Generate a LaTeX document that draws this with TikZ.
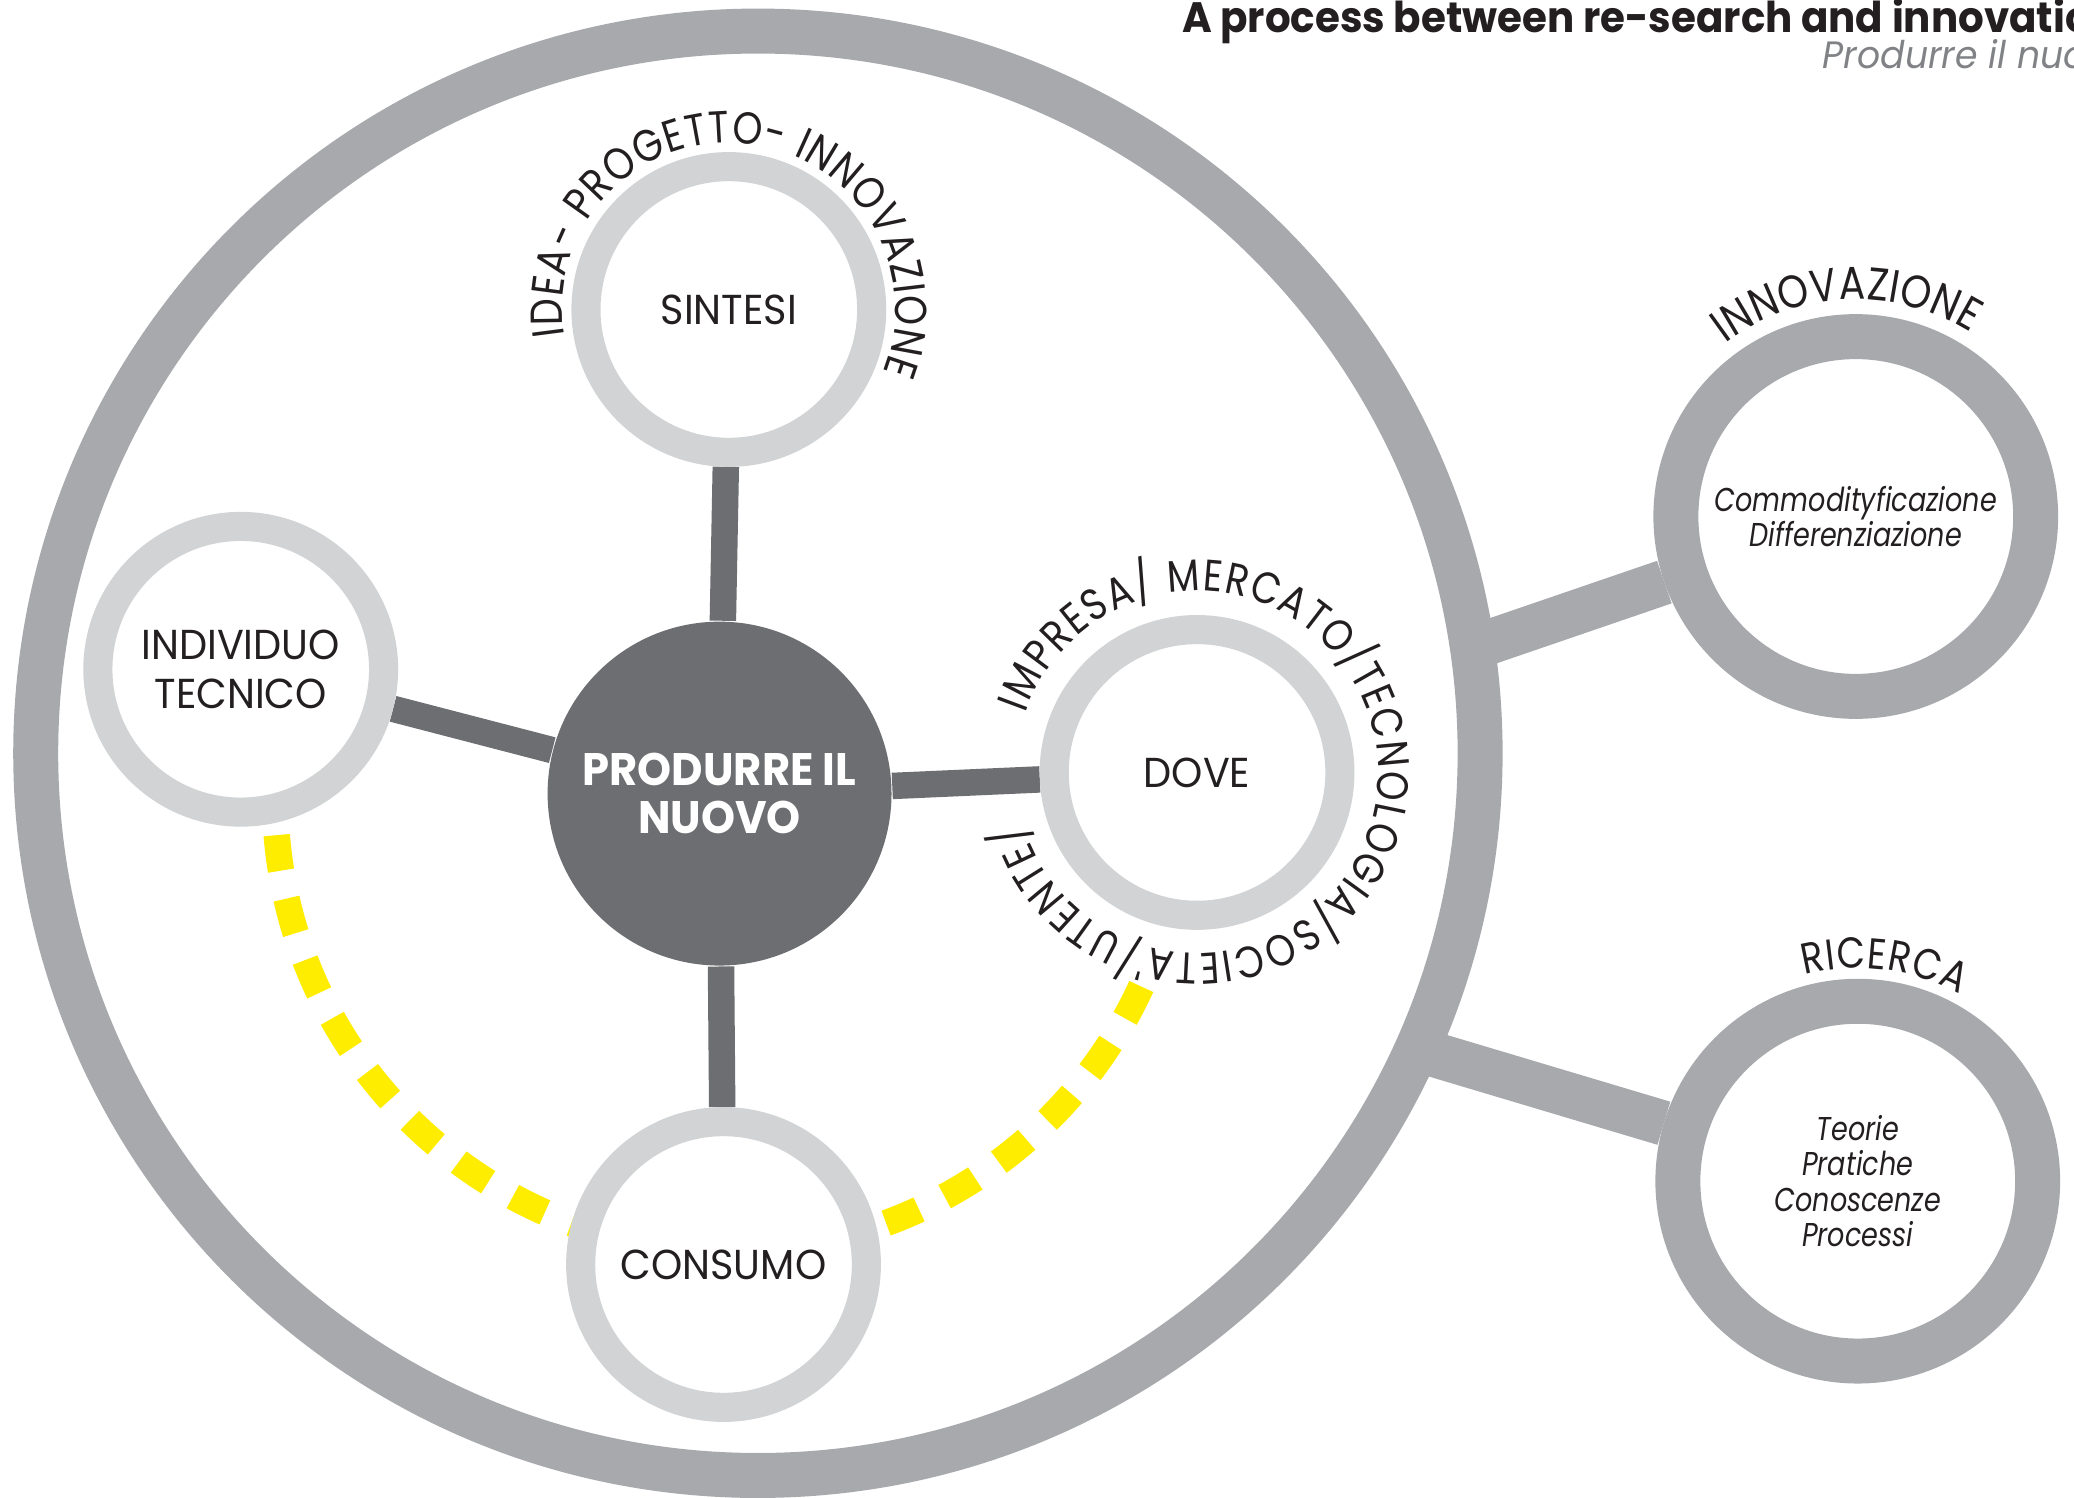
\documentclass[tikz,border=0pt]{standalone}
\usepackage{fontspec}
\setmainfont{Poppins}[FakeStretch=0.95]
\newfontfamily\arcfont{Poppins}[FakeStretch=0.85]
\newfontfamily\sidefont{Poppins}[FakeStretch=0.82]
\usetikzlibrary{decorations.text,backgrounds}
\definecolor{ringgray}{HTML}{A7A9AC}
\definecolor{satgray}{HTML}{D1D3D4}
\definecolor{hubgray}{HTML}{6D6E71}
\definecolor{trailyellow}{HTML}{FFED00}
\definecolor{inkblack}{HTML}{231F20}
\definecolor{subgray}{HTML}{808285}
\tikzset{
  hub/.style={shape=circle,fill=hubgray,minimum size=2.6cm,inner sep=0pt,align=center,text=white,font=\bfseries\fontsize{9.8}{10.4}\selectfont},
  sat/.style={shape=circle,draw=satgray,fill=white,line width=0.22cm,minimum size=2.16cm,inner sep=0pt,align=center,text=inkblack,font=\fontsize{9}{10.5}\selectfont},
  sidering/.style={shape=circle,draw=ringgray,fill=white,line width=0.34cm,minimum size=2.72cm,inner sep=0pt,align=center,text=inkblack,font=\sidefont\itshape\fontsize{7.1}{7.6}\selectfont},
  bigring/.style={shape=circle,draw=ringgray,line width=0.34cm,minimum size=10.92cm,inner sep=0pt},
  spoke/.style={-,draw=hubgray,line width=0.2cm},
  link/.style={-,draw=ringgray,line width=0.34cm},
  trail/.style={draw=trailyellow,line width=0.2cm,dash pattern=on 0.27cm off 0.216cm},
  arclabel/.style={decorate,decoration={text along path,text align=fit to path,text color=inkblack}}
}

\begin{document}
\begin{tikzpicture}
\useasboundingbox (0,0) rectangle (15.68,11.32);
\node[bigring] (7) at (5.73,5.625) {};
\node[hub] (0) at (5.44,5.32) {PRODURRE IL\\NUOVO};
\node[sat] (1) at (5.51,8.98) {SINTESI};
\node[sat] (2) at (1.82,6.26) {INDIVIDUO\\TECNICO};
\node[sat] (3) at (9.05,5.48) {DOVE};
\node[sat] (4) at (5.47,1.76) {CONSUMO};
\node[sidering] (5) at (14.03,7.415) {Commodityficazione\\Differenziazione};
\node[sidering] (6) at (14.045,2.39) {Teorie\\Pratiche\\Conoscenze\\Processi};
\node[anchor=base west,inner sep=0pt,text=inkblack,font=\bfseries\fontsize{9.15}{11}\selectfont] (8) at (8.93,11.075) {A process between re-search and innovation};
\node[anchor=base west,inner sep=0pt,text=subgray,font=\itshape\fontsize{8.2}{10}\selectfont] (9) at (13.775,10.80) {Produrre il nuovo};

\path [arclabel,decoration={text={|\arcfont\fontsize{9.65}{10}\selectfont|IDEA- PROGETTO- INNOVAZIONE}}] (1.center) ++(189:1.26) arc[start angle=189,end angle=-22,radius=1.26];
\path [arclabel,decoration={text={|\arcfont\fontsize{9.5}{10}\selectfont|IMPRESA/ MERCATO/TECNOLOGIA/SOCIETA'/UTENTE/}}] (3.center) ++(161:1.37) arc[start angle=161,end angle=-164,radius=1.37];
\path [arclabel,decoration={text={|\arcfont\fontsize{9.9}{10}\selectfont|INNOVAZIONE}}] (5.center) ++(127:1.64) arc[start angle=127,end angle=58,radius=1.64];
\path [arclabel,decoration={text={|\arcfont\fontsize{9.3}{10}\selectfont|RICERCA}}] (6.center) ++(104.5:1.61) arc[start angle=104.5,end angle=61.5,radius=1.61];

\begin{pgfonlayer}{background}
\fill[white] (0,0) rectangle (15.68,11.32);
\path (7.center) ++(8.4:5.465) coordinate (a);
\path (7.center) ++(-24.2:5.465) coordinate (b);
\path [spoke] (0) edge (1);
\path [spoke] (0) edge (2);
\path [spoke] (0) edge (3);
\path [spoke] (0) edge (4);
\path [link] (a) edge (5);
\path [link] (b) edge (6);
\draw [trail] (0.center) ++(0.07,-0.03) ++(184.75:3.43) arc[start angle=184.75,end angle=335.45,radius=3.43];
\end{pgfonlayer}
\end{tikzpicture}
\end{document}
